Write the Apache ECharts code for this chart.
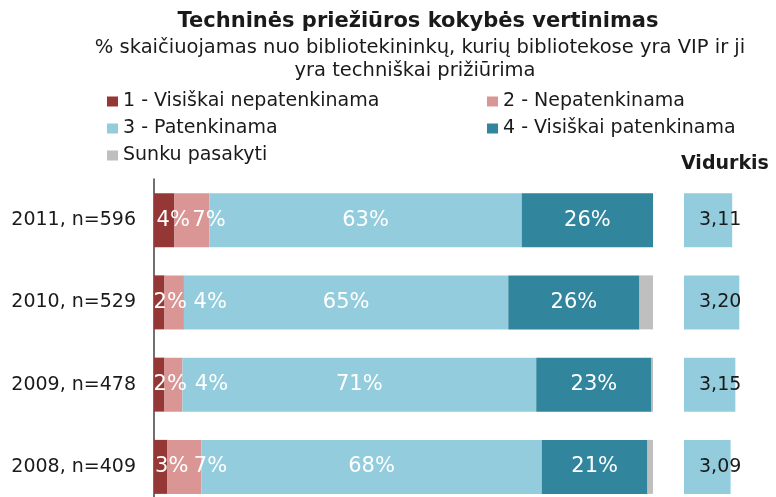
<!DOCTYPE html>
<html>
<head>
<meta charset="utf-8">
<script src="https://cdn.jsdelivr.net/npm/echarts@6/dist/echarts.min.js"></script>
<style>
  html, body { margin: 0; padding: 0; background: #fff; }
  #chart { width: 776px; height: 497px; }
</style>
</head>
<body>
<div id="chart"></div>
<script>
// duomenys
const categories = ['2011, n=596', '2010, n=529', '2009, n=478', '2008, n=409'];
const seriesNames = ['1 - Visiškai nepatenkinama', '2 - Nepatenkinama', '3 - Patenkinama', '4 - Visiškai patenkinama', 'Sunku pasakyti'];
const visiskaiNepatenkinama = [4.1, 2.1, 2.1, 2.7];
const nepatenkinama = [7.0, 3.9, 3.6, 6.8];
const patenkinama = [62.6, 65.0, 70.9, 68.2];
const visiskaiPatenkinama = [26.3, 26.3, 23.1, 21.2];
const sunkuPasakyti = [0, 2.7, 0.3, 1.1];
const vidurkis = [3.11, 3.20, 3.15, 3.09];

// mazu reiksmiu etikeciu poslinkis (kaip originale)
const shiftDark = [9, 11, 11, 11];
const shiftPink = [17, 36, 38, 26];

const colors = ['#953735', '#D99694', '#93CDDD', '#31859C', '#BFBFBF'];
const FONT = 'DejaVu Sans';

const chart = echarts.init(document.getElementById('chart'));

function barSeries(idx, values, shifts, showLabel) {
  return {
    name: seriesNames[idx],
    type: 'bar',
    stack: 'total',
    barWidth: 54,
    xAxisIndex: 0,
    yAxisIndex: 0,
    itemStyle: { color: colors[idx] },
    label: {
      show: showLabel,
      position: 'inside',
      color: '#fff',
      fontFamily: FONT,
      fontSize: 21,
      textBorderWidth: 0,
      formatter: p => Math.round(p.value) + '%'
    },
    data: values.map((v, i) => shifts ? { value: v, label: { offset: [shifts[i], 0] } } : v)
  };
}

const legendText = { fontFamily: FONT, fontSize: 19, color: '#1a1a1a', lineHeight: 19 };

const option = {
  animation: false,
  graphic: [
    {
      type: 'text', x: 418, y: 22,
      style: { text: 'Techninės priežiūros kokybės vertinimas', fill: '#1a1a1a',
        font: 'bold 21px "DejaVu Sans"', textAlign: 'center', textVerticalAlign: 'middle' }
    },
    {
      type: 'text', x: 420, y: 48,
      style: { text: '% skaičiuojamas nuo bibliotekininkų, kurių bibliotekose yra VIP ir ji', fill: '#1a1a1a',
        font: '19.5px "DejaVu Sans"', textAlign: 'center', textVerticalAlign: 'middle' }
    },
    {
      type: 'text', x: 415, y: 71,
      style: { text: 'yra techniškai prižiūrima', fill: '#1a1a1a',
        font: '19.5px "DejaVu Sans"', textAlign: 'center', textVerticalAlign: 'middle' }
    },
    {
      type: 'text', x: 681, y: 164,
      style: { text: 'Vidurkis', fill: '#1a1a1a',
        font: 'bold 19px "DejaVu Sans"', textAlign: 'left', textVerticalAlign: 'middle' }
    }
  ],
  legend: [
    {
      left: 107, top: 92, orient: 'vertical', padding: 0,
      itemWidth: 11, itemHeight: 10, itemGap: 8, icon: 'rect',
      textStyle: legendText,
      data: [seriesNames[0], seriesNames[2], seriesNames[4]]
    },
    {
      left: 487, top: 92, orient: 'vertical', padding: 0,
      itemWidth: 11, itemHeight: 10, itemGap: 8, icon: 'rect',
      textStyle: legendText,
      data: [seriesNames[1], seriesNames[3]]
    }
  ],
  grid: [
    { left: 154, top: 179, width: 499, height: 329, outerBoundsMode: 'none', containLabel: false },
    { left: 684, top: 179, width: 79, height: 329, outerBoundsMode: 'none', containLabel: false }
  ],
  xAxis: [
    { gridIndex: 0, type: 'value', min: 0, max: 100, show: false },
    { gridIndex: 1, type: 'value', min: 2.5, max: 3.5, show: false }
  ],
  yAxis: [
    {
      gridIndex: 0, type: 'category', inverse: true, data: categories,
      axisLine: { show: true, lineStyle: { color: '#404040', width: 1.5 } },
      axisTick: { show: false },
      splitLine: { show: false },
      axisLabel: { fontFamily: FONT, fontSize: 19, color: '#1a1a1a', margin: 18 }
    },
    {
      gridIndex: 1, type: 'category', inverse: true, data: categories, show: false
    }
  ],
  series: [
    barSeries(0, visiskaiNepatenkinama, shiftDark, true),
    barSeries(1, nepatenkinama, shiftPink, true),
    barSeries(2, patenkinama, null, true),
    barSeries(3, visiskaiPatenkinama, null, true),
    barSeries(4, sunkuPasakyti, null, false),
    {
      name: 'Vidurkis',
      type: 'bar',
      xAxisIndex: 1,
      yAxisIndex: 1,
      barWidth: 54,
      itemStyle: { color: '#93CDDD' },
      label: {
        show: true,
        position: 'insideLeft',
        distance: 15,
        color: '#1a1a1a',
        fontFamily: FONT,
        fontSize: 19,
        formatter: p => p.value.toFixed(2).replace('.', ',')
      },
      data: vidurkis
    }
  ]
};

chart.setOption(option);
</script>
</body>
</html>
